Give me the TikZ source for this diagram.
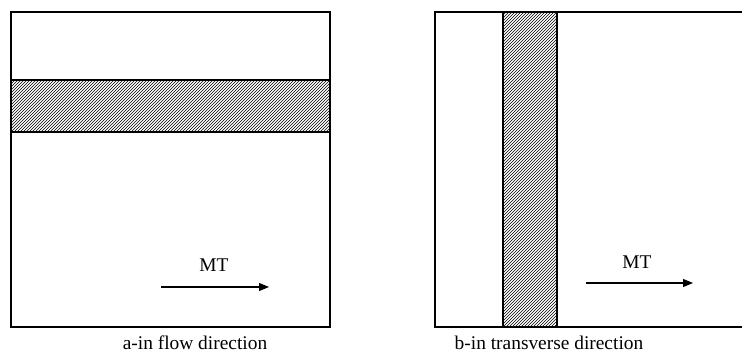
\documentclass[tikz,border=0pt]{standalone}
\usepackage{fontspec}
\setmainfont{Liberation Serif}
\usetikzlibrary{patterns,arrows.meta}
\tikzset{
  frame/.style={line width=2.8pt},
  strip/.style={pattern=north east lines, pattern color=black},
  mtarrow/.style={line width=1.1pt, -{Triangle[length=10pt,width=8pt]}},
  lbl/.style={inner sep=0pt, font=\fontsize{19.4}{23}\selectfont},
}
\begin{document}
\begin{tikzpicture}[x=1pt,y=1pt]
  \useasboundingbox (0,0) rectangle (742,353);
  \clip (0,0) rectangle (742,353);
  % sample cut along the flow direction: horizontal strip
  \fill[strip] (11,221) rectangle (330,273);
  \draw[frame] (11,26) rectangle (330,341);
  \draw[frame] (11,273) -- (330,273);
  \draw[frame] (11,221) -- (330,221);
  \coordinate (a1) at (161,66);
  \coordinate (a2) at (269,66);
  \draw[mtarrow] (a1) -- (a2);
  \node[lbl] (mta) at (214,88) {MT};
  \node[lbl] (capa) at (195,10) {a-in flow direction};
  % sample cut across the flow direction: vertical strip
  \fill[strip] (503,26) rectangle (557,341);
  \draw[frame] (760,341) -- (435,341) -- (435,26) -- (760,26);
  \draw[frame] (503,26) -- (503,341);
  \draw[frame] (557,26) -- (557,341);
  \coordinate (b1) at (586,70);
  \coordinate (b2) at (693,70);
  \draw[mtarrow] (b1) -- (b2);
  \node[lbl] (mtb) at (637,91) {MT};
  \node[lbl] (capb) at (549,10) {b-in transverse direction};
\end{tikzpicture}
\end{document}
